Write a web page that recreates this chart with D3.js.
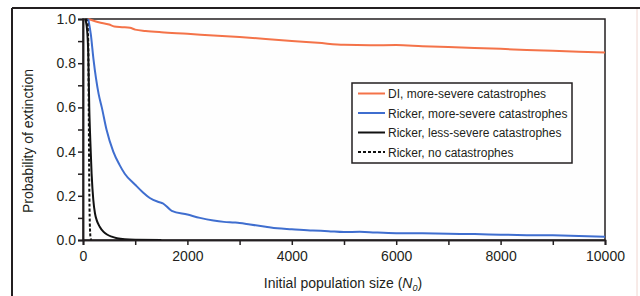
<!DOCTYPE html>
<html>
	<head>
		<style>
			body { margin: 0; background: #ffffff; }
			svg { width: 640px; height: 296px; display: block; }
			.axis path, .axis line { stroke: #231f20; stroke-width: 1.5px; }
			.axis text { font: 14px "Liberation Sans", Arial, sans-serif; fill: #231f20; }
			.axisLabel { font: 14px "Liberation Sans", Arial, sans-serif; fill: #231f20; }
			.legendText { font: 12px "Liberation Sans", Arial, sans-serif; fill: #231f20; }
			.curve { fill: none; stroke-width: 2px; stroke-linejoin: round; }
		</style>
		<script src="https://d3js.org/d3.v7.min.js"></script>
	</head>
	<body>
		<svg></svg>
		<script>
			// values
			var diN0 = [100, 300, 500, 600, 750, 900, 1000, 1200, 1500, 2000, 2500, 3000, 3500, 4000, 4500, 5000, 5500, 6000, 6500, 7000, 7500, 8000, 8500, 9000, 9500, 10000];
			var diP = [1.0, 0.985, 0.975, 0.966, 0.963, 0.96, 0.952, 0.946, 0.94, 0.933, 0.925, 0.918, 0.91, 0.9, 0.892, 0.883, 0.881, 0.882, 0.877, 0.873, 0.869, 0.865, 0.86, 0.856, 0.852, 0.848];

			var rmN0 = [100, 150, 200, 250, 300, 360, 450, 580, 700, 800, 1000, 1150, 1280, 1450, 1530, 1700, 2000, 2240, 2500, 2700, 2900, 3000, 3200, 3500, 3720, 4000, 4400, 4700, 5000, 5300, 5600, 6000, 6500, 7000, 7500, 8000, 8500, 9000, 9500, 10000];
			var rmP = [1.0, 0.93, 0.82, 0.73, 0.66, 0.6, 0.5, 0.4, 0.34, 0.3, 0.25, 0.215, 0.19, 0.172, 0.166, 0.132, 0.115, 0.1, 0.088, 0.082, 0.079, 0.077, 0.07, 0.06, 0.053, 0.049, 0.043, 0.04, 0.036, 0.037, 0.034, 0.031, 0.03, 0.028, 0.027, 0.024, 0.022, 0.021, 0.018, 0.015];

			var rlN0 = [40, 70, 100, 120, 140, 165, 198, 230, 262, 320, 390, 460, 550, 650, 800, 1000, 1500];
			var rlP = [1.0, 0.97, 0.85, 0.6, 0.45, 0.3, 0.18, 0.12, 0.09, 0.06, 0.038, 0.025, 0.015, 0.008, 0.003, 0.001, 0.0];

			var rnN0 = [50, 80, 100, 110, 120, 130, 145, 160];
			var rnP = [1.0, 0.99, 0.9, 0.6, 0.25, 0.08, 0.01, 0.0];

			var legendLabels = ["DI, more-severe catastrophes", "Ricker, more-severe catastrophes", "Ricker, less-severe catastrophes", "Ricker, no catastrophes"];
			var yTicks = [0, 0.2, 0.4, 0.6, 0.8, 1.0];
			var yMinor = [0.1, 0.3, 0.5, 0.7, 0.9];
			var xTicks = [0, 2000, 4000, 6000, 8000, 10000];
			var xMinor = [1000, 3000, 5000, 7000, 9000];

			var series = [
				{ n: diN0, p: diP, color: "#f47349", dash: null },
				{ n: rmN0, p: rmP, color: "#3f6ecf", dash: null },
				{ n: rlN0, p: rlP, color: "#111111", dash: null },
				{ n: rnN0, p: rnP, color: "#111111", dash: "3,2" }
			];

			var svg = d3.select("svg");

			// outer frame
			svg.append("line").attr("x1", 12).attr("y1", 8).attr("x2", 640).attr("y2", 8)
				.attr("stroke", "#231f20").attr("stroke-width", 2);
			svg.append("line").attr("x1", 12).attr("y1", 8).attr("x2", 12).attr("y2", 296)
				.attr("stroke", "#231f20").attr("stroke-width", 2);
			svg.append("line").attr("x1", 637).attr("y1", 9).attr("x2", 637).attr("y2", 296)
				.attr("stroke", "#f0d6d0").attr("stroke-width", 1);

			var x = d3.scaleLinear().domain([0, 10000]).range([83, 605]);
			var y = d3.scaleLinear().domain([0, 1]).range([240, 19]);

			svg.append("rect")
				.attr("x", 83).attr("y", 19).attr("width", 522).attr("height", 221)
				.attr("fill", "#fefefe").attr("stroke", "#231f20").attr("stroke-width", 1.5);

			var line = d3.line()
				.x(function(d) { return x(d[0]); })
				.y(function(d) { return y(d[1]); })
				.curve(d3.curveMonotoneX);

			series.forEach(function(s) {
				var pts = s.n.map(function(v, i) { return [v, s.p[i]]; });
				svg.append("path")
					.attr("class", "curve")
					.attr("d", line(pts))
					.attr("stroke", s.color)
					.attr("stroke-dasharray", s.dash);
			});

			// axes
			svg.append("g").attr("class", "axis").attr("transform", "translate(83,0)")
				.call(d3.axisLeft(y).tickValues(yTicks).tickSize(5).tickPadding(2).tickFormat(d3.format(".1f")));
			svg.append("g").attr("class", "axis").attr("transform", "translate(83,0)")
				.call(d3.axisLeft(y).tickValues(yMinor).tickSize(5).tickFormat(""));
			svg.append("g").attr("class", "axis").attr("transform", "translate(0,240)")
				.call(d3.axisBottom(x).tickValues(xTicks).tickSize(5).tickPadding(6).tickFormat(d3.format("d")));
			svg.append("g").attr("class", "axis").attr("transform", "translate(0,240)")
				.call(d3.axisBottom(x).tickValues(xMinor).tickSize(5).tickFormat(""));

			// axis titles
			svg.append("text").attr("class", "axisLabel")
				.attr("transform", "translate(33,141) rotate(-90)")
				.attr("text-anchor", "middle")
				.text("Probability of extinction");

			var xl = svg.append("text").attr("class", "axisLabel")
				.attr("x", 343).attr("y", 288).attr("text-anchor", "middle");
			xl.append("tspan").text("Initial population size (");
			xl.append("tspan").attr("font-style", "italic").text("N");
			xl.append("tspan").attr("font-style", "italic").attr("font-size", "9px").attr("dy", 3).text("0");
			xl.append("tspan").attr("dy", -3).text(")");

			// legend
			var lg = svg.append("g").attr("transform", "translate(352,83)");
			lg.append("rect").attr("width", 220).attr("height", 80)
				.attr("fill", "#ffffff").attr("stroke", "#231f20").attr("stroke-width", 1.5);
			legendLabels.forEach(function(t, i) {
				var cy = 10.5 + i * 19.5;
				lg.append("line").attr("x1", 6).attr("x2", 33).attr("y1", cy).attr("y2", cy)
					.attr("stroke", series[i].color).attr("stroke-width", 2)
					.attr("stroke-dasharray", series[i].dash);
				lg.append("text").attr("class", "legendText")
					.attr("x", 36).attr("y", cy + 4.5).text(t);
			});
		</script>
	</body>
</html>
